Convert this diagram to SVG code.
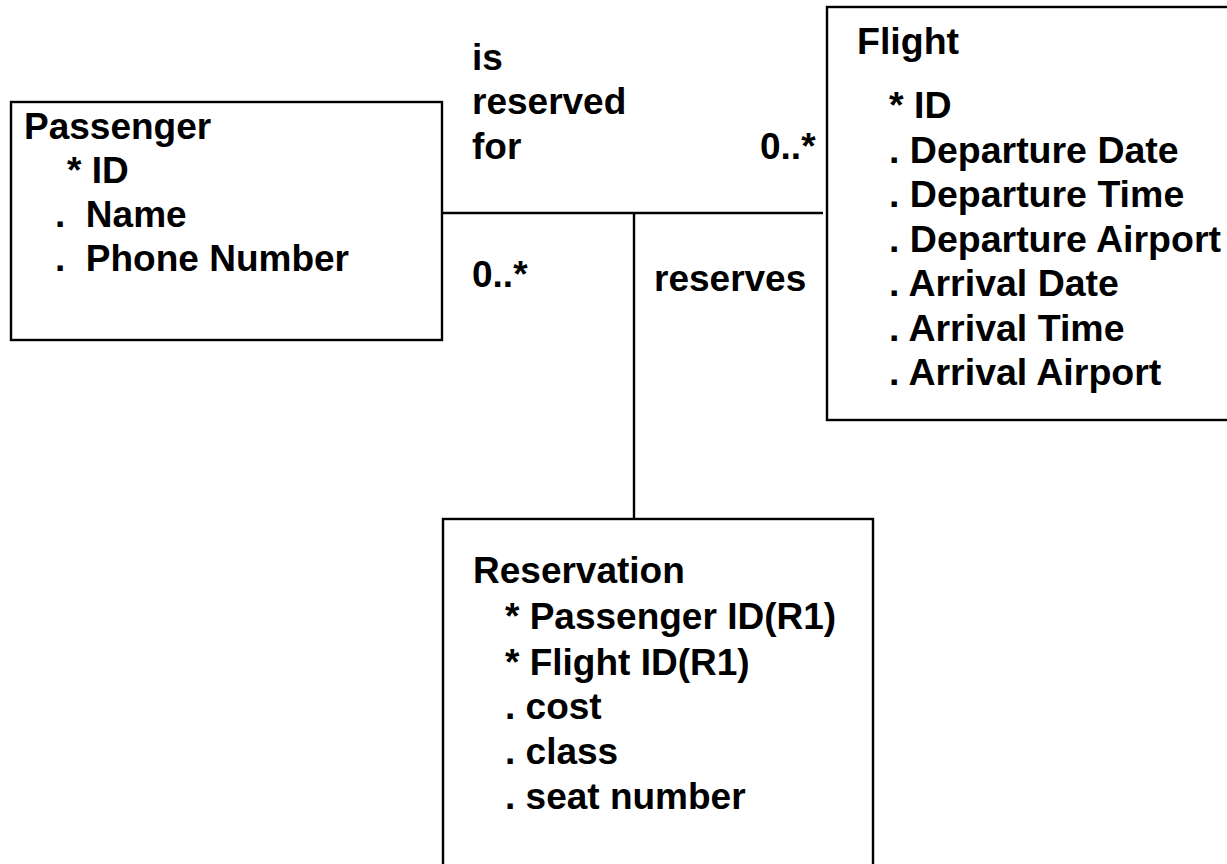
<svg xmlns="http://www.w3.org/2000/svg" width="1227" height="864" viewBox="0 0 1227 864">
  <style>
    .box { fill: #ffffff; stroke: #000000; stroke-width: 2.4; }
    .link { fill: none; stroke: #000000; stroke-width: 2.4; }
    text { font-family: "Liberation Sans", Arial, Helvetica, sans-serif; font-weight: bold; font-size: 37px; fill: #000000; white-space: pre; }
    .wide { font-size: 37.5px; }
  </style>
  <rect width="1227" height="864" fill="#ffffff"/>

  <!-- association lines -->
  <g id="connectors">
    <line class="link" x1="442" y1="213" x2="823" y2="213"/>
    <line class="link" x1="634" y1="213" x2="634" y2="519"/>
  </g>

  <!-- association labels -->
  <g id="labels">
    <text x="472" y="70">is</text>
    <text x="472" y="114">reserved</text>
    <text x="472" y="159">for</text>
    <text x="760" y="159">0..*</text>
    <text x="472" y="287">0..*</text>
    <text x="654" y="291">reserves</text>
  </g>

  <g id="passenger">
    <rect class="box" x="11" y="102" width="431" height="238"/>
    <text x="24" y="139">Passenger</text>
    <text x="67" y="183">* ID</text>
    <text x="55" y="227">.  Name</text>
    <text x="55" y="271">.  Phone Number</text>
  </g>

  <g id="flight">
    <rect class="box" x="827" y="7" width="420" height="413"/>
    <text class="wide" x="857" y="54">Flight</text>
    <text class="wide" x="889" y="118">* ID</text>
    <text class="wide" x="889" y="163">. Departure Date</text>
    <text class="wide" x="889" y="207">. Departure Time</text>
    <text class="wide" x="889" y="252">. Departure Airport</text>
    <text class="wide" x="889" y="296">. Arrival Date</text>
    <text class="wide" x="889" y="341">. Arrival Time</text>
    <text class="wide" x="889" y="385">. Arrival Airport</text>
  </g>

  <g id="reservation">
    <rect class="box" x="443" y="519" width="430" height="370"/>
    <text x="473" y="583">Reservation</text>
    <text x="505" y="629">* Passenger ID(R1)</text>
    <text x="505" y="675">* Flight ID(R1)</text>
    <text x="505" y="719">. cost</text>
    <text x="505" y="764">. class</text>
    <text x="505" y="809">. seat number</text>
  </g>
</svg>
